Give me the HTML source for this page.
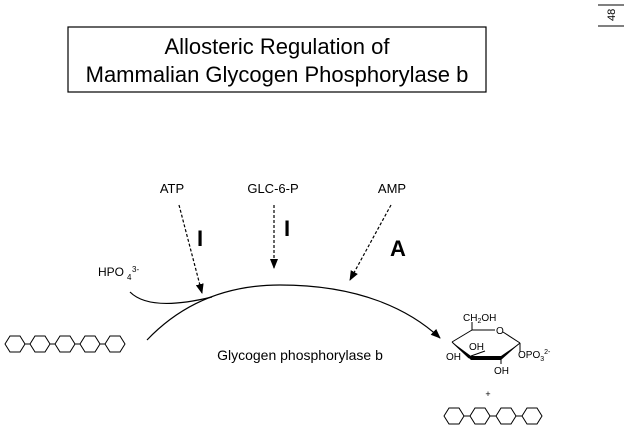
<!DOCTYPE html>
<html><head><style>
body{margin:0;background:#fff;}
svg{display:block;font-family:"Liberation Sans",Arial,sans-serif;}
</style></head><body>
<svg width="626" height="429" viewBox="0 0 626 429" xmlns="http://www.w3.org/2000/svg">
<defs>
<marker id="ah" markerWidth="10" markerHeight="10" refX="9" refY="5" orient="auto" markerUnits="userSpaceOnUse">
<path d="M0,1 L10,5 L0,9 Z" fill="#000"/></marker>
<g id="hex"><polygon points="0,0 5,-8 15,-8 20,0 15,8 5,8" fill="none" stroke="#000" stroke-width="1"/></g>
</defs>
<line x1="598" y1="5" x2="624" y2="5" stroke="#000"/>
<line x1="598" y1="26" x2="624" y2="26" stroke="#000"/>
<text x="0" y="0" font-size="11" transform="translate(615,21) rotate(-90)">48</text>
<rect x="68" y="27" width="418" height="65" fill="none" stroke="#000" stroke-width="1.2"/>
<text x="277" y="54" font-size="22" text-anchor="middle">Allosteric Regulation of</text>
<text x="277" y="82" font-size="22" text-anchor="middle">Mammalian Glycogen Phosphorylase b</text>
<text x="172" y="193" font-size="13" text-anchor="middle">ATP</text>
<text x="273" y="193" font-size="13" text-anchor="middle">GLC-6-P</text>
<text x="392" y="193" font-size="13" text-anchor="middle">AMP</text>
<g stroke="#000" stroke-width="1.2" stroke-dasharray="3,2" fill="none">
<line x1="179" y1="205" x2="202" y2="293" marker-end="url(#ah)"/>
<line x1="274" y1="205" x2="274" y2="268" marker-end="url(#ah)"/>
<line x1="391" y1="205" x2="350" y2="280" marker-end="url(#ah)"/>
</g>
<text x="200" y="246" font-size="22" font-weight="bold" text-anchor="middle">I</text>
<text x="287" y="236" font-size="22" font-weight="bold" text-anchor="middle">I</text>
<text x="398" y="256" font-size="22" font-weight="bold" text-anchor="middle">A</text>
<path d="M147,340 C190,295 240,285 280,285 C360,285 410,310 440,338" fill="none" stroke="#000" stroke-width="1.2" marker-end="url(#ah)"/>
<path d="M130,292 Q150,312 212,297" fill="none" stroke="#000" stroke-width="1.2"/>
<text x="98" y="276" font-size="12">HPO</text>
<text x="127" y="280" font-size="8">4</text>
<text x="132" y="272" font-size="8">3-</text>
<text x="300" y="360" font-size="14" text-anchor="middle">Glycogen phosphorylase b</text>
<g>
<use href="#hex" x="5" y="344"/><line x1="25" y1="344" x2="30" y2="344" stroke="#000"/>
<use href="#hex" x="30" y="344"/><line x1="50" y1="344" x2="55" y2="344" stroke="#000"/>
<use href="#hex" x="55" y="344"/><line x1="75" y1="344" x2="80" y2="344" stroke="#000"/>
<use href="#hex" x="80" y="344"/><line x1="100" y1="344" x2="105" y2="344" stroke="#000"/>
<use href="#hex" x="105" y="344"/>
</g>
<g>
<use href="#hex" x="444" y="416"/><line x1="464" y1="416" x2="470" y2="416" stroke="#000"/>
<use href="#hex" x="470" y="416"/><line x1="490" y1="416" x2="496" y2="416" stroke="#000"/>
<use href="#hex" x="496" y="416"/><line x1="516" y1="416" x2="522" y2="416" stroke="#000"/>
<use href="#hex" x="522" y="416"/>
</g>
<text x="488" y="397" font-size="9" text-anchor="middle">+</text>
<g stroke="#000" fill="none" stroke-width="1">
<line x1="472" y1="330" x2="452" y2="342"/>
<line x1="472" y1="330" x2="495" y2="330"/>
<line x1="503" y1="332" x2="520" y2="343"/>
<line x1="472" y1="330" x2="472" y2="322"/>
<line x1="452" y1="342" x2="469" y2="358"/>
<line x1="520" y1="343" x2="501" y2="358"/>
<line x1="471" y1="356" x2="485" y2="351"/>
<line x1="501" y1="358" x2="501" y2="364"/>
<line x1="520" y1="343" x2="520" y2="352"/>
</g>
<polygon points="452,342 471,356 501,356 520,343 501,360 471,360" fill="#000"/>
<g font-size="10">
<text x="463" y="321">CH<tspan font-size="7" dy="2">2</tspan><tspan dy="-2">OH</tspan></text>
<text x="496" y="334">O</text>
<text x="446" y="360">OH</text>
<text x="469" y="350">OH</text>
<text x="494" y="374">OH</text>
<text x="518" y="358">OPO<tspan font-size="7" dy="3">3</tspan><tspan font-size="7" dy="-7">2-</tspan></text>
</g>
</svg>
</body></html>
